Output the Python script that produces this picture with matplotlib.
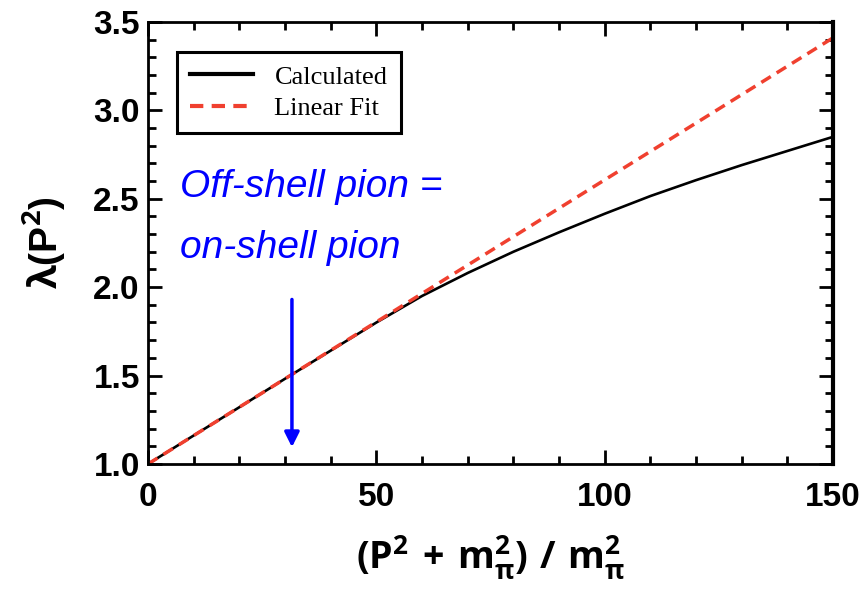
import matplotlib
matplotlib.use("Agg")
import matplotlib.pyplot as plt
from matplotlib.ticker import MultipleLocator

# lambda(P^2) against (P^2 + m_pi^2) / m_pi^2
x_calc = [0, 10, 20, 30, 40, 50, 60, 70, 80, 90, 100, 110, 120, 130, 140, 150]
y_calc = [1.0, 1.161, 1.321, 1.482, 1.641, 1.80, 1.95, 2.08, 2.20, 2.31, 2.415,
          2.515, 2.605, 2.69, 2.77, 2.85]

x_fit = [0, 150]
y_fit = [1.0, 3.41]

arrow_x = 31.5
arrow_from = 1.93
arrow_to = 1.095

plt.rcParams["mathtext.fontset"] = "custom"
plt.rcParams["mathtext.rm"] = "Open Sans:bold"
plt.rcParams["mathtext.it"] = "Open Sans:bold"
plt.rcParams["mathtext.bf"] = "Open Sans:bold"

fig = plt.figure(figsize=(8.66, 5.91), dpi=100)
ax = fig.add_subplot(111)
fig.subplots_adjust(left=0.171, right=0.962, bottom=0.215, top=0.963)

ax.plot(x_calc, y_calc, color="black", lw=1.9, label="Calculated")
ax.plot(x_fit, y_fit, color="#f0402f", lw=2.5, ls=(0, (3.2, 2.0)), label="Linear Fit")

ax.set_xlim(0, 150)
ax.set_ylim(1.0, 3.5)
ax.xaxis.set_major_locator(MultipleLocator(50))
ax.xaxis.set_minor_locator(MultipleLocator(10))
ax.yaxis.set_major_locator(MultipleLocator(0.5))
ax.yaxis.set_minor_locator(MultipleLocator(0.1))
ax.yaxis.set_major_formatter(plt.FormatStrFormatter("%.1f"))

ax.tick_params(which="both", direction="in", top=True, right=True, width=2)
ax.tick_params(which="major", length=10)
ax.tick_params(which="minor", length=5.5)
ax.tick_params(axis="x", pad=13)
ax.tick_params(axis="y", pad=6)
for lab in ax.get_xticklabels() + ax.get_yticklabels():
    lab.set_fontfamily("Liberation Sans")
    lab.set_fontweight("bold")
    lab.set_fontsize(24)

for side in ["left", "bottom", "top"]:
    ax.spines[side].set_linewidth(2)
ax.spines["right"].set_linewidth(3)

ax.set_xlabel(r"$(\mathrm{P}^2\,+\,\mathrm{m}_{\pi}^2)\ /\ \mathrm{m}_{\pi}^2$", fontsize=27)
ax.xaxis.set_label_coords(0.5, -0.158)
ax.set_ylabel(r"$\mathbf{\lambda}$(P$^\mathbf{2}$)", fontsize=28, fontweight="bold",
              fontfamily="Liberation Sans")
ax.yaxis.set_label_coords(-0.118, 0.5)

leg = ax.legend(loc="upper left", bbox_to_anchor=(0.042, 0.932), fancybox=False,
                edgecolor="black", framealpha=1, prop={"family": "Liberation Serif", "size": 19},
                handlelength=2.4, handletextpad=0.8, borderpad=0.5, labelspacing=0.3,
                borderaxespad=0)
leg.get_frame().set_linewidth(2.2)
for line in leg.get_lines():
    line.set_linewidth(3)

ax.text(7.0, 2.51, "Off-shell pion =", color="blue", fontsize=28, fontstyle="italic",
        fontfamily="Liberation Sans", va="baseline")
ax.text(7.0, 2.165, "on-shell pion", color="blue", fontsize=28, fontstyle="italic",
        fontfamily="Liberation Sans", va="baseline")

ax.annotate("", xy=(arrow_x, arrow_to), xytext=(arrow_x, arrow_from),
            arrowprops=dict(arrowstyle="-|>", color="blue", lw=2.5, mutation_scale=22,
                            shrinkA=0, shrinkB=0))

fig.savefig("out.png", dpi=100)
